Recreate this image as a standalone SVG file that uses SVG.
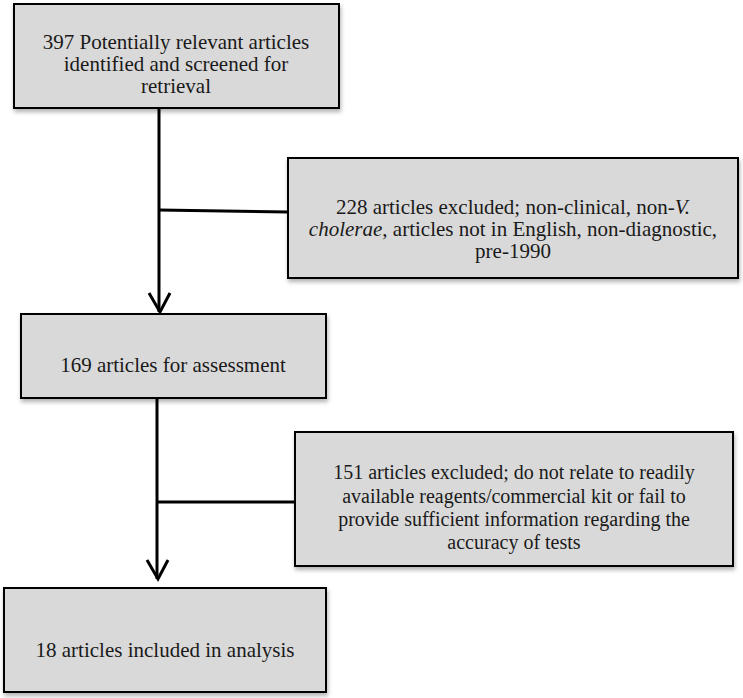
<svg xmlns="http://www.w3.org/2000/svg" width="743" height="698" viewBox="0 0 743 698">
<defs>
<filter id="sh" x="-10%" y="-10%" width="120%" height="130%">
<feDropShadow dx="1" dy="3" stdDeviation="2" flood-color="#000" flood-opacity="0.3"/>
</filter>
</defs>
<style>
.box{fill:#d9d9d9;stroke:#000;stroke-width:2;filter:url(#sh)}
text{font-family:"Liberation Serif","DejaVu Serif",serif;font-size:21px;fill:#1a1a1a;text-anchor:middle}
.sm{font-size:20px}
.ln{stroke:#000;stroke-width:3;fill:none}
</style>
<rect width="743" height="698" fill="#fff"/>
<g id="connectors">
<line class="ln" x1="159" y1="108" x2="159" y2="312"/>
<polyline class="ln" points="149,293 160,312 170,293"/>
<line class="ln" x1="159" y1="210" x2="288" y2="212"/>
<line class="ln" x1="157" y1="398" x2="157" y2="579"/>
<polyline class="ln" points="147,560 158,579 168,560"/>
<line class="ln" x1="157" y1="502" x2="295" y2="502"/>
</g>
<g id="n1">
<rect class="box" x="14" y="4" width="325" height="104"/>
<text x="176" y="49">397 Potentially relevant articles</text>
<text x="176" y="71">identified and screened for</text>
<text x="176" y="93">retrieval</text>
</g>
<g id="n2">
<rect class="box" x="288" y="158" width="450" height="120"/>
<text x="513" y="214">228 articles excluded; non-clinical, non-<tspan font-style="italic">V.</tspan></text>
<text x="513" y="236"><tspan font-style="italic">cholerae</tspan>, articles not in English, non-diagnostic,</text>
<text x="513" y="258">pre-1990</text>
</g>
<g id="n3">
<rect class="box" x="21" y="314" width="305" height="84"/>
<text x="173" y="372">169 articles for assessment</text>
</g>
<g id="n4">
<rect class="box" x="295" y="432" width="438" height="134"/>
<text class="sm" x="514" y="479">151 articles excluded; do not relate to readily</text>
<text class="sm" x="514" y="503">available reagents/commercial kit or fail to</text>
<text class="sm" x="514" y="526">provide sufficient information regarding the</text>
<text class="sm" x="514" y="549">accuracy of tests</text>
</g>
<g id="n5">
<rect class="box" x="4" y="588" width="322" height="104"/>
<text x="165" y="657">18 articles included in analysis</text>
</g>
</svg>
